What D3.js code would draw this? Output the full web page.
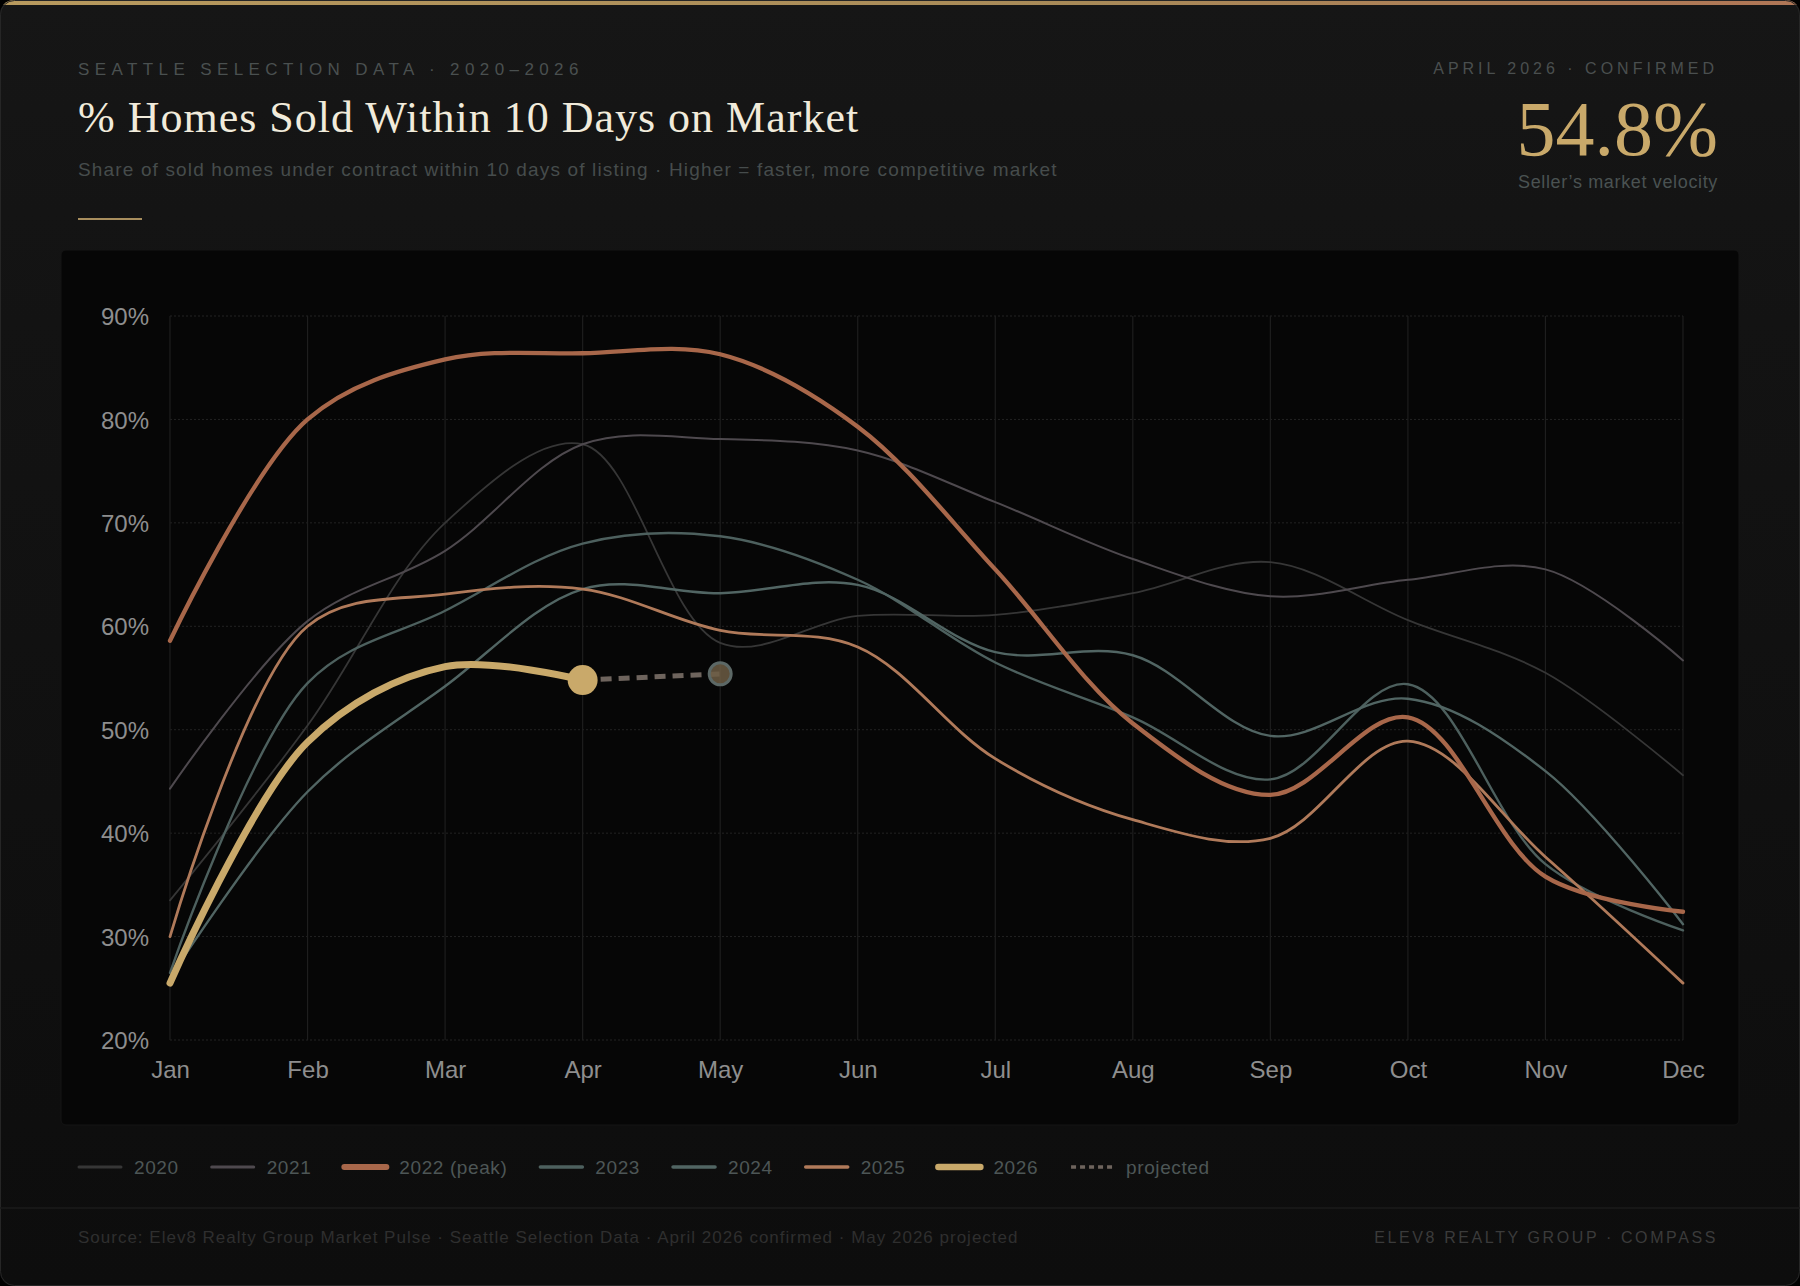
<!DOCTYPE html>
<html>
<head>
<meta charset="utf-8">
<script src="https://cdn.jsdelivr.net/npm/d3@7"></script>
<style>
  html, body { margin: 0; padding: 0; background: #000; }
  svg { display: block; }
</style>
</head>
<body>
<script>
var width = 1800,
    height = 1286;

// data
var months = ["Jan", "Feb", "Mar", "Apr", "May", "Jun", "Jul", "Aug", "Sep", "Oct", "Nov", "Dec"];
var v2020 = [33.5, 50.4, 70.0, 77.6, 58.4, 61.0, 61.1, 63.2, 66.2, 60.6, 55.5, 45.6];
var v2021 = [44.3, 60.5, 67.3, 77.6, 78.1, 77.0, 72.0, 66.5, 62.9, 64.5, 65.5, 56.7];
var v2022 = [58.6, 80.0, 85.8, 86.4, 86.3, 79.3, 65.5, 50.6, 43.7, 51.2, 35.8, 32.4];
var v2023 = [26.5, 54.5, 61.5, 68.0, 68.7, 64.5, 56.5, 51.2, 45.2, 54.4, 37.0, 30.6];
var v2024 = [26.0, 44.0, 54.2, 63.6, 63.2, 64.0, 57.5, 57.2, 49.4, 53.0, 46.0, 31.2];
var v2025 = [30.0, 60.0, 63.1, 63.6, 59.6, 58.0, 47.2, 41.3, 39.5, 48.9, 37.7, 25.5];
var v2026 = [25.5, 48.8, 56.1, 54.8];
var projMonths = ["Apr", "May"];
var projValues = [54.8, 55.4];
var yTicks = [20, 30, 40, 50, 60, 70, 80, 90];
var legendNames = ["2020", "2021", "2022 (peak)", "2023", "2024", "2025", "2026", "projected"];

// looks
var style = {
  "2020": { color: "#363636", w: 1.8, lw: 3 },
  "2021": { color: "#4e494e", w: 2, lw: 3 },
  "2022 (peak)": { color: "#a8674a", w: 4.3, lw: 6 },
  "2023": { color: "#4d605e", w: 2.4, lw: 3.5 },
  "2024": { color: "#516563", w: 2.4, lw: 3.5 },
  "2025": { color: "#b07a5a", w: 2.8, lw: 3.5 },
  "2026": { color: "#c9a96a", w: 7, lw: 6.5 },
  "projected": { color: "#6e645d", w: 5, lw: 3.5 }
};

var series = [
  { name: "2020", values: v2020 },
  { name: "2021", values: v2021 },
  { name: "2023", values: v2023 },
  { name: "2024", values: v2024 },
  { name: "2025", values: v2025 },
  { name: "2022 (peak)", values: v2022 },
  { name: "2026", values: v2026 }
];

var sans = "'Liberation Sans', Arial, Helvetica, sans-serif";
var serif = "'Liberation Serif', 'Times New Roman', serif";

var svg = d3.select("body").append("svg").attr("width", width).attr("height", height);
var defs = svg.append("defs");

var bg = defs.append("linearGradient").attr("id", "cardbg").attr("x1", 0).attr("y1", 0).attr("x2", 0).attr("y2", 1);
bg.append("stop").attr("offset", "0%").attr("stop-color", "#161616");
bg.append("stop").attr("offset", "25%").attr("stop-color", "#131313");
bg.append("stop").attr("offset", "100%").attr("stop-color", "#0d0d0d");

var bar = defs.append("linearGradient").attr("id", "topbar").attr("x1", 0).attr("y1", 0).attr("x2", 1).attr("y2", 0);
bar.append("stop").attr("offset", "0%").attr("stop-color", "#b89a5e");
bar.append("stop").attr("offset", "60%").attr("stop-color", "#a88a58");
bar.append("stop").attr("offset", "100%").attr("stop-color", "#b07656");

defs.append("clipPath").attr("id", "cardclip")
  .append("rect").attr("x", 0).attr("y", 0).attr("width", width).attr("height", height).attr("rx", 14);

// card
var card = svg.append("g").attr("clip-path", "url(#cardclip)");
card.append("rect").attr("x", 0).attr("y", 0).attr("width", width).attr("height", height)
  .attr("fill", "url(#cardbg)");
card.append("rect").attr("x", 0).attr("y", 0).attr("width", width).attr("height", 5)
  .attr("fill", "url(#topbar)");
svg.append("rect").attr("x", 0.5).attr("y", 0.5).attr("width", width - 1).attr("height", height - 1)
  .attr("rx", 14).attr("fill", "none").attr("stroke", "#262626");

// header
svg.append("text").attr("x", 78).attr("y", 75)
  .style("font-family", sans).style("font-size", "17px").style("letter-spacing", "5.4px")
  .style("fill", "#4a5050").text("SEATTLE SELECTION DATA  \u00b7  2020\u20132026");

svg.append("text").attr("x", 78).attr("y", 132)
  .style("font-family", serif).style("font-size", "44px").style("letter-spacing", "1px")
  .style("fill", "#f1ebdb").text("% Homes Sold Within 10 Days on Market");

svg.append("text").attr("x", 78).attr("y", 176)
  .style("font-family", sans).style("font-size", "19px").style("letter-spacing", "1.15px")
  .style("fill", "#464c4c")
  .text("Share of sold homes under contract within 10 days of listing  \u00b7  Higher = faster, more competitive market");

svg.append("rect").attr("x", 78).attr("y", 218).attr("width", 64).attr("height", 2).attr("fill", "#a88e5e");

svg.append("text").attr("x", 1718).attr("y", 74).attr("text-anchor", "end")
  .style("font-family", sans).style("font-size", "16px").style("letter-spacing", "4px")
  .style("fill", "#4a4f4f").text("APRIL 2026 \u00b7 CONFIRMED");

svg.append("text").attr("x", 1718).attr("y", 155).attr("text-anchor", "end")
  .style("font-family", serif).style("font-size", "78px")
  .style("fill", "#c9a96a").text(v2026[v2026.length - 1].toFixed(1) + "%");

svg.append("text").attr("x", 1718).attr("y", 187.5).attr("text-anchor", "end")
  .style("font-family", sans).style("font-size", "18px").style("letter-spacing", "0.65px")
  .style("fill", "#4a5252").text("Seller\u2019s market velocity");

// chart panel
svg.append("rect").attr("x", 61).attr("y", 250).attr("width", 1678).attr("height", 875)
  .attr("rx", 5).attr("fill", "#060606").attr("stroke", "#141414");

var x = d3.scalePoint().domain(months).range([170, 1683]);
var y = d3.scaleLinear().domain([20, 90]).range([1040, 316]);

var grid = svg.append("g");
grid.selectAll(".hg").data(yTicks).enter().append("line").attr("class", "hg")
  .attr("x1", x.range()[0]).attr("x2", x.range()[1])
  .attr("y1", function(d) { return y(d) }).attr("y2", function(d) { return y(d) })
  .style("stroke", "#232323").style("stroke-width", 1).style("stroke-dasharray", "2,2");
grid.selectAll(".vg").data(months).enter().append("line").attr("class", "vg")
  .attr("y1", y(90)).attr("y2", y(20))
  .attr("x1", function(d) { return x(d) }).attr("x2", function(d) { return x(d) })
  .style("stroke", "#1e1e1e").style("stroke-width", 1.2);

var yAxis = svg.append("g").attr("transform", "translate(" + x.range()[0] + ",0)")
  .call(d3.axisLeft(y).tickValues(yTicks).tickSize(0).tickPadding(21).tickFormat(function(d) { return d + "%" }));
var xAxis = svg.append("g").attr("transform", "translate(0," + y(20) + ")")
  .call(d3.axisBottom(x).tickSize(0).tickPadding(21));
[yAxis, xAxis].forEach(function(a) {
  a.select(".domain").remove();
  a.selectAll("text").style("font-family", sans).style("font-size", "24px").style("fill", "#8e8e8e");
});
yAxis.selectAll("text").attr("dy", "0.36em");

// lines
var line = d3.line()
  .x(function(d, i) { return x(months[i]) })
  .y(function(d) { return y(d) })
  .curve(d3.curveCatmullRom.alpha(0.5));

svg.selectAll(".series").data(series).enter().append("path").attr("class", "series")
  .attr("d", function(d) { return line(d.values) })
  .style("fill", "none")
  .style("stroke", function(d) { return style[d.name].color })
  .style("stroke-width", function(d) { return style[d.name].w })
  .style("stroke-linecap", "round")
  .style("stroke-linejoin", "round");

// projection
var projLine = d3.line()
  .x(function(d, i) { return x(projMonths[i]) })
  .y(function(d) { return y(d) });
svg.append("path").attr("d", projLine(projValues))
  .style("fill", "none").style("stroke", style.projected.color)
  .style("stroke-width", style.projected.w).style("stroke-dasharray", "11,7");

svg.append("circle").attr("cx", x(projMonths[1])).attr("cy", y(projValues[1])).attr("r", 11)
  .style("fill", "#6d5d44").style("fill-opacity", 0.85)
  .style("stroke", "#5c6866").style("stroke-width", 3);

svg.append("circle").attr("cx", x(months[v2026.length - 1])).attr("cy", y(v2026[v2026.length - 1])).attr("r", 15)
  .style("fill", "#c9a96a");

// legend
var legend = svg.append("g").attr("transform", "translate(79,1167)");
var lx = 0;
legendNames.forEach(function(n) {
  var g = legend.append("g").attr("transform", "translate(" + lx + ",0)");
  g.append("line").attr("x1", 0).attr("x2", 42).attr("y1", 0).attr("y2", 0)
    .style("stroke", style[n].color).style("stroke-width", style[n].lw)
    .style("stroke-linecap", n == "projected" ? "butt" : "round")
    .style("stroke-dasharray", n == "projected" ? "5,4" : null);
  var t = g.append("text").attr("x", 55).attr("y", 0).attr("dy", "0.36em")
    .style("font-family", sans).style("font-size", "19px").style("letter-spacing", "0.6px")
    .style("fill", "#4d5656").text(n);
  lx += 55 + t.node().getComputedTextLength() + 33;
});

// footer
svg.append("line").attr("x1", 0).attr("x2", width).attr("y1", 1208).attr("y2", 1208)
  .style("stroke", "#1b1b1b").style("stroke-width", 1.5);

svg.append("text").attr("x", 78).attr("y", 1243)
  .style("font-family", sans).style("font-size", "17px").style("letter-spacing", "1px")
  .style("fill", "#2f2f2f")
  .text("Source: Elev8 Realty Group Market Pulse \u00b7 Seattle Selection Data \u00b7 April 2026 confirmed \u00b7 May 2026 projected");

svg.append("text").attr("x", 1718).attr("y", 1243).attr("text-anchor", "end")
  .style("font-family", sans).style("font-size", "16px").style("letter-spacing", "2.6px")
  .style("fill", "#3b3b3b").text("ELEV8 REALTY GROUP \u00b7 COMPASS");
</script>
</body>
</html>
